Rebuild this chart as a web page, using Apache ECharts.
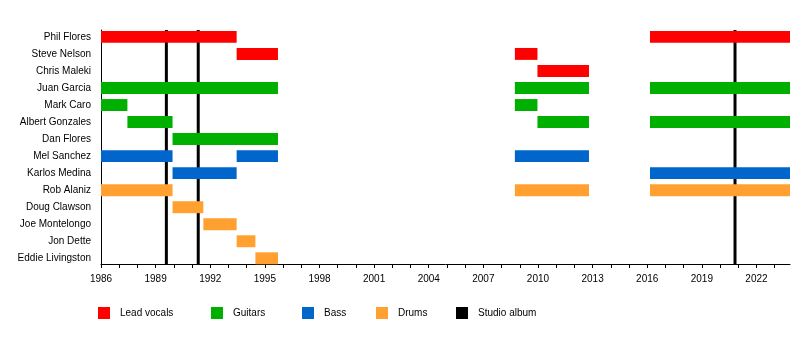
<!DOCTYPE html>
<html>
<head>
<meta charset="utf-8">
<script src="https://cdn.jsdelivr.net/npm/echarts@6/dist/echarts.min.js"></script>
<style>
html,body{margin:0;padding:0;background:#fff;}
#main{width:800px;height:364px;}
</style>
</head>
<body>
<div id="main"></div>
<script>
// ---- data ----
const members = ['Phil Flores','Steve Nelson','Chris Maleki','Juan Garcia','Mark Caro','Albert Gonzales','Dan Flores','Mel Sanchez','Karlos Medina','Rob Alaniz','Doug Clawson','Joe Montelongo','Jon Dette','Eddie Livingston'];
const leadVocals = [
  ['Phil Flores', 1986, 1993.45], ['Phil Flores', 2016.15, 2023.84],
  ['Steve Nelson', 1993.45, 1995.72], ['Steve Nelson', 2008.73, 2009.97],
  ['Chris Maleki', 2009.97, 2012.8]
];
const guitars = [
  ['Juan Garcia', 1986, 1995.72], ['Juan Garcia', 2008.73, 2012.8], ['Juan Garcia', 2016.15, 2023.84],
  ['Mark Caro', 1986, 1987.45], ['Mark Caro', 2008.73, 2009.97],
  ['Albert Gonzales', 1987.45, 1989.93], ['Albert Gonzales', 2009.97, 2012.8], ['Albert Gonzales', 2016.15, 2023.84],
  ['Dan Flores', 1989.93, 1995.72]
];
const bass = [
  ['Mel Sanchez', 1986, 1989.93], ['Mel Sanchez', 1993.45, 1995.72], ['Mel Sanchez', 2008.73, 2012.8],
  ['Karlos Medina', 1989.93, 1993.45], ['Karlos Medina', 2016.15, 2023.84]
];
const drums = [
  ['Rob Alaniz', 1986, 1989.93], ['Rob Alaniz', 2008.73, 2012.8], ['Rob Alaniz', 2016.15, 2023.84],
  ['Doug Clawson', 1989.93, 1991.62],
  ['Joe Montelongo', 1991.62, 1993.45],
  ['Jon Dette', 1993.45, 1994.48],
  ['Eddie Livingston', 1994.48, 1995.72]
];
const studioAlbums = [1989.59, 1991.34, 2020.82];
const yearLabels = [1986,1989,1992,1995,1998,2001,2004,2007,2010,2013,2016,2019,2022];
const yearTicks = [1986,1987,1988,1989,1990,1991,1992,1993,1994,1995,1996,1997,1998,1999,2000,2001,2002,2003,2004,2005,2006,2007,2008,2009,2010,2011,2012,2013,2014,2015,2016,2017,2018,2019,2020,2021,2022,2023];
const X_MIN = 1986, X_MAX = 2023.84;
const Y_MIN = -0.405, Y_MAX = 13.335;

// ---- chart ----
const FONT = '"Liberation Sans", Arial, sans-serif';
const colors = {
  'Lead vocals': '#ff0000',
  'Guitars': '#00b000',
  'Bass': '#0066cc',
  'Drums': '#ffa030',
  'Studio album': '#000000'
};

function toRows(arr){
  return arr.map(d => [d[1], d[2], members.indexOf(d[0])]);
}
function renderBar(params, api){
  const s = api.coord([api.value(0), api.value(2)]);
  const e = api.coord([api.value(1), api.value(2)]);
  const h = api.size([0, 1])[1] * 0.7;
  return {
    type: 'rect',
    shape: {x: s[0], y: s[1] - h/2, width: e[0] - s[0], height: h},
    style: {fill: api.visual('color')}
  };
}
function renderAlbum(params, api){
  const t = api.coord([api.value(0), Y_MIN]);
  const b = api.coord([api.value(0), Y_MAX]);
  return {
    type: 'line',
    shape: {x1: t[0], y1: t[1], x2: b[0], y2: b[1]},
    style: {stroke: '#000', lineWidth: 3}
  };
}
function barSeries(name, arr){
  return {
    type: 'custom', name: name, renderItem: renderBar,
    itemStyle: {color: colors[name]},
    encode: {x: [0,1], y: 2},
    data: toRows(arr), z: 3, clip: false, silent: true
  };
}
const legendLefts = {'Lead vocals': 98, 'Guitars': 211, 'Bass': 302, 'Drums': 376, 'Studio album': 456};
const legends = Object.keys(legendLefts).map(n => ({
  data: [{name: n, icon: 'rect'}],
  left: legendLefts[n], top: 307, padding: 0,
  itemWidth: 12, itemHeight: 12,
  textStyle: {fontFamily: FONT, fontSize: 10, color: '#000', padding: [0,0,0,5]},
  selectedMode: false
}));

const chart = echarts.init(document.getElementById('main'), null, {renderer: 'canvas'});
chart.setOption({
  animation: false,
  backgroundColor: '#fff',
  grid: {left: 101, right: 10, top: 30, bottom: 100, containLabel: false},
  legend: legends,
  xAxis: {
    type: 'value', min: X_MIN, max: X_MAX, interval: 3, position: 'bottom',
    axisLine: {show: true, onZero: false, lineStyle: {color: '#000', width: 1}},
    axisTick: {show: true, length: 4, lineStyle: {color: '#000'}, customValues: yearTicks},
    axisLabel: {customValues: yearLabels, fontFamily: FONT, fontSize: 10, color: '#000', margin: 10, formatter: v => String(v)},
    splitLine: {show: false}
  },
  yAxis: {
    type: 'value', inverse: true, min: Y_MIN, max: Y_MAX, position: 'left',
    axisLine: {show: true, onZero: false, lineStyle: {color: '#000', width: 1}},
    axisTick: {show: false},
    axisLabel: {customValues: members.map((m,i) => i), formatter: v => members[v], fontFamily: FONT, fontSize: 10, color: '#000', margin: 10, padding: [2,0,0,0]},
    splitLine: {show: false}
  },
  series: [
    {
      type: 'custom', name: 'Studio album', renderItem: renderAlbum,
      itemStyle: {color: colors['Studio album']},
      encode: {x: 0},
      data: studioAlbums.map(v => [v]), z: 2, silent: true
    },
    barSeries('Lead vocals', leadVocals),
    barSeries('Guitars', guitars),
    barSeries('Bass', bass),
    barSeries('Drums', drums)
  ]
});
</script>
</body>
</html>
